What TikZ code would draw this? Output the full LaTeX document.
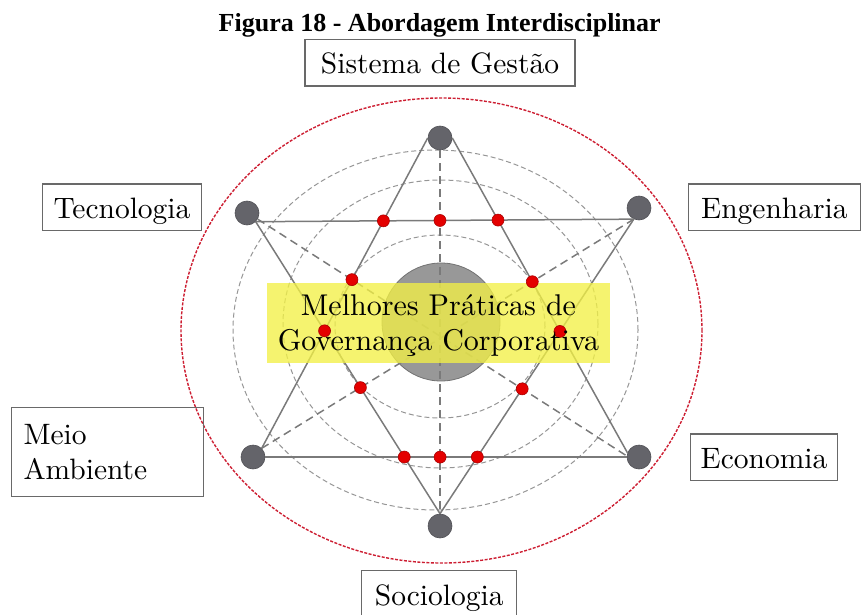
\documentclass[tikz,border=0pt]{standalone}
\usepackage{fontspec}
\newfontfamily\titlefont{Liberation Serif}
\newfontfamily\lmten{lmroman10-regular.otf}
\usetikzlibrary{calc}

\definecolor{ringgray}{RGB}{150,150,150}
\definecolor{linegray}{RGB}{122,122,122}
\definecolor{orbitred}{RGB}{205,30,50}
\definecolor{bandyellow}{RGB}{242,240,70}
\definecolor{coregray}{RGB}{152,152,152}
\definecolor{hubgray}{RGB}{100,100,106}
\definecolor{boxgray}{RGB}{105,105,105}
\definecolor{dotred}{RGB}{228,0,0}

\tikzset{
  hub/.style={circle, fill=hubgray, draw=hubgray!80!black, line width=0.6pt, minimum size=24pt, inner sep=0pt},
  cross/.style={circle, fill=dotred, draw=dotred!75!black, line width=0.6pt, minimum size=12pt, inner sep=0pt},
  ring/.style={draw=ringgray, line width=1pt, dash pattern=on 5pt off 3pt},
  edge/.style={draw=linegray, line width=1.5pt},
  spoke/.style={draw=linegray, line width=1.5pt, dash pattern=on 8pt off 5pt},
  labelbox/.style={draw=boxgray, line width=1.1pt, font=\lmten\fontsize{29.5}{35}\selectfont,
    text height=26pt, text depth=4pt, inner ysep=8.3pt, inner xsep=0pt},
}

\begin{document}
\begin{tikzpicture}[x=1pt,y=-1pt]
\useasboundingbox (0,0) rectangle (861,615);

% title
\node[anchor=base, inner sep=0pt, font=\titlefont\bfseries\fontsize{26}{30}\selectfont]
  (title) at (439.7,32) {Figura 18 - Abordagem Interdisciplinar};

% outer red orbit and inner dashed rings
\draw[orbitred, line width=1.4pt, dash pattern=on 3pt off 1.5pt]
  (441.5,330.5) ellipse [x radius=260.5pt, y radius=232.5pt];

\node[circle, fill=coregray, draw=coregray!75!black, line width=0.8pt, minimum size=118pt, inner sep=0pt]
  (core) at (441,322) {};

\draw[ring] (435.5,330) ellipse [x radius=202.5pt, y radius=180pt];
\draw[ring] (440.5,324) ellipse [x radius=157.5pt, y radius=144pt];
\draw[ring] (440,326.5) ellipse [x radius=105pt, y radius=91.5pt];

% the six hubs of the star
\node[hub] (T)  at (440,138) {};
\node[hub] (TL) at (247,213) {};
\node[hub] (TR) at (639,208) {};
\node[hub] (BL) at (253,457) {};
\node[hub] (BR) at (639,457) {};
\node[hub] (B)  at (440,526) {};

% attachment points of the edges
\coordinate (tw) at (T.west);
\coordinate (te) at (T.east);
\coordinate (ts) at (T.south);
\coordinate (tlse) at (TL.south east);
\coordinate (tlr) at (TL.-30);
\coordinate (trs) at (TR.-115);
\coordinate (blne) at (BL.north east);
\coordinate (ble) at (BL.east);
\coordinate (brw) at (BR.west);
\coordinate (brn) at (BR.160);
\coordinate (brl) at (BR.175);
\coordinate (bn) at (B.north);

% upward triangle
\draw[edge] (tw) -- (blne);
\draw[edge] (te) -- (brn);
\draw[edge] (ble) -- (brw);
% downward triangle
\draw[edge] (tlse) -- (trs);
\draw[edge] (tlse) -- (bn);
\draw[edge] (trs) -- (bn);
% dashed axes
\draw[spoke] (ts) -- (bn);
\draw[spoke] (tlr) -- (brl);
\draw[spoke] (trs) -- (blne);

% highlighted band
\node[fill=bandyellow, fill opacity=0.78, minimum width=343pt, minimum height=80pt, inner sep=0pt]
  (band) at (438.5,323) {};

% crossing points
\node[cross] (r1)  at (intersection of tlse--trs and tw--blne) {};
\node[cross] (r2)  at (intersection of tlse--trs and ts--bn) {};
\node[cross] (r3)  at (intersection of tlse--trs and te--brn) {};
\node[cross] (r4)  at (intersection of tw--blne and tlr--brl) {};
\node[cross] (r5)  at (intersection of te--brn and trs--blne) {};
\node[cross] (r6)  at (intersection of tw--blne and tlse--bn) {};
\node[cross] (r7)  at (intersection of te--brn and trs--bn) {};
\node[cross] (r8)  at (intersection of tlse--bn and trs--blne) {};
\node[cross] (r9)  at (intersection of trs--bn and tlr--brl) {};
\node[cross] (r10) at (intersection of ble--brw and tlse--bn) {};
\node[cross] (r11) at (intersection of ble--brw and ts--bn) {};
\node[cross] (r12) at (intersection of ble--brw and trs--bn) {};

% central text
\node[align=center, inner sep=0pt, font=\lmten\fontsize{30}{35}\selectfont]
  (mpgc) at (438.5,326) {Melhores Práticas de\\Governança Corporativa};

% discipline labels
\node[labelbox, minimum width=270pt] (gestao) at (440,62.7) {Sistema de Gestão};
\node[labelbox, minimum width=159.4pt] (tecno) at (122,207.3) {Tecnologia};
\node[labelbox, minimum width=172pt] (engen) at (774.4,207.3) {Engenharia};
\node[labelbox, minimum width=146.6pt] (econo) at (764,457.3) {Economia};
\node[labelbox, minimum width=155pt] (socio) at (439.2,594) {Sociologia};
\node[draw=boxgray, line width=1.1pt, font=\lmten\fontsize{29.5}{35}\selectfont,
  text width=168pt, inner xsep=11.8pt, minimum height=89pt, align=left]
  (meio) at (107.5,452.2) {Meio\\Ambiente};
\end{tikzpicture}
\end{document}
